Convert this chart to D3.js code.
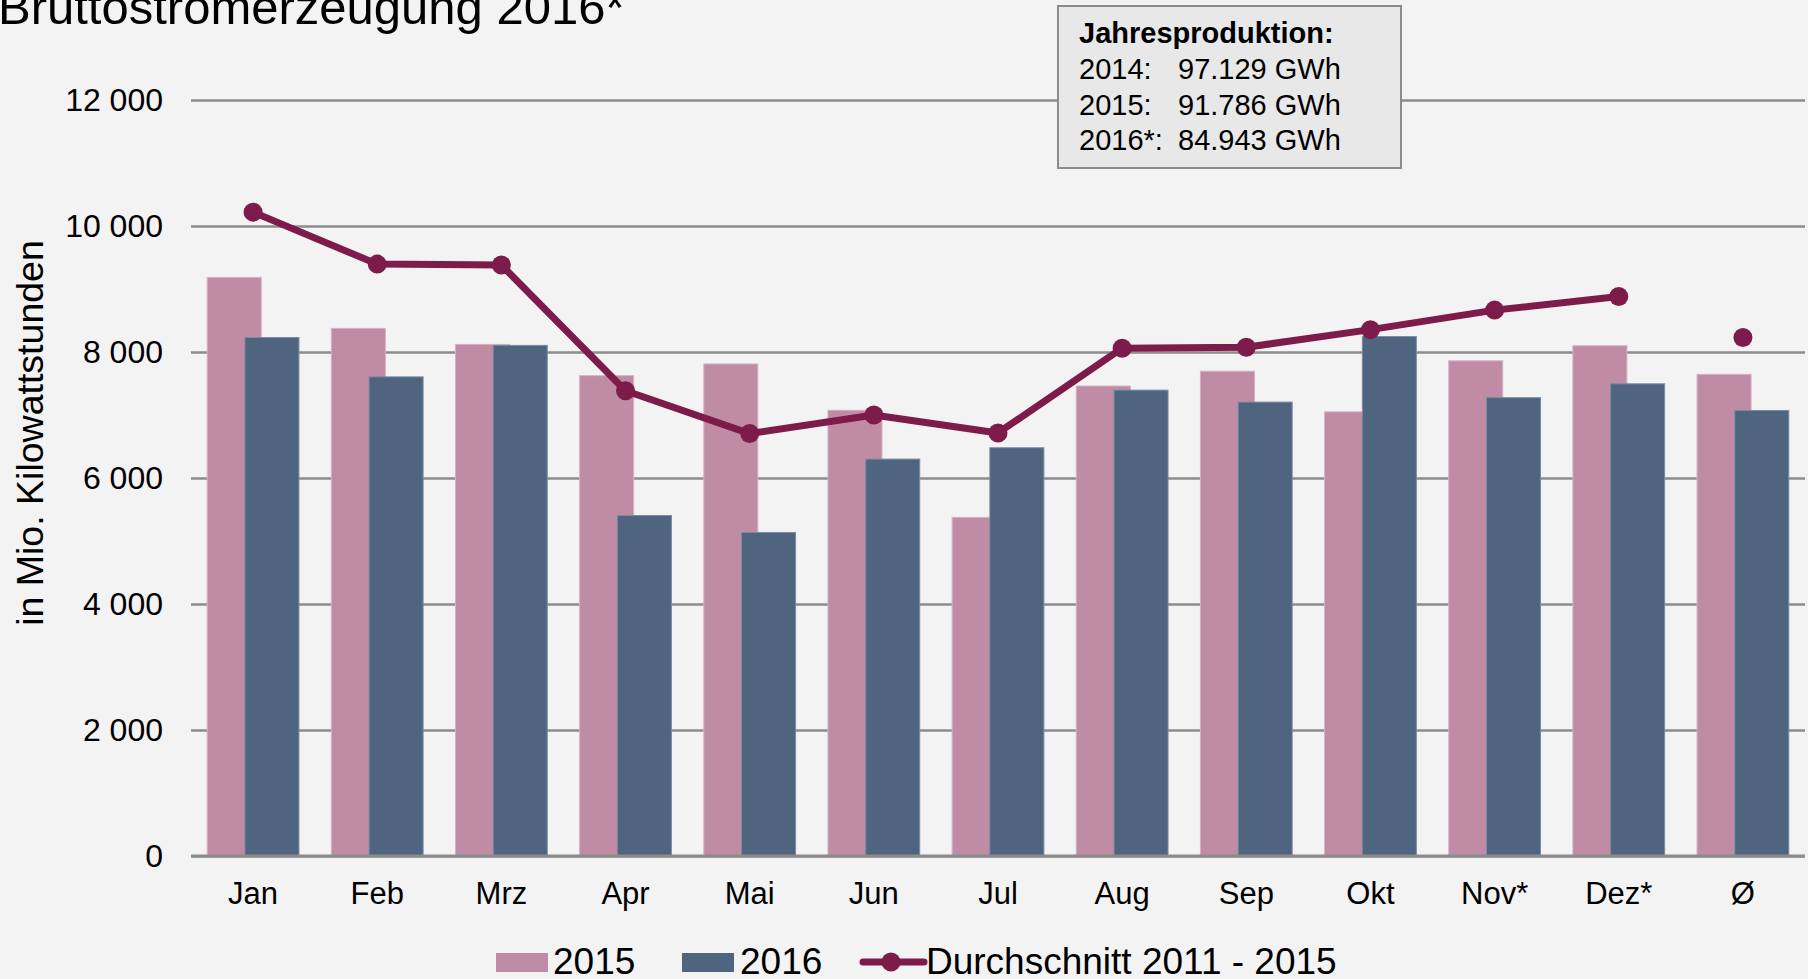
<!DOCTYPE html>
<html>
<head>
<meta charset="utf-8">
<script src="https://cdn.jsdelivr.net/npm/d3@7"></script>
<style>
  html, body { margin: 0; padding: 0; background: #f3f3f3; overflow: hidden; }
  svg { display: block; font-family: "Liberation Sans", Arial, sans-serif; }
</style>
</head>
<body>
<div id="chart"></div>
<script>
const months = ['Jan', 'Feb', 'Mrz', 'Apr', 'Mai', 'Jun', 'Jul', 'Aug', 'Sep', 'Okt', 'Nov*', 'Dez*', 'Ø'];
const values2015 = [9185, 8375, 8120, 7625, 7810, 7075, 5375, 7460, 7695, 7050, 7860, 8100, 7645];
const values2016 = [8230, 7605, 8105, 5405, 5135, 6300, 6480, 7395, 7205, 8245, 7275, 7495, 7072];
// average 2011-2015, last entry (Ø) is drawn as a lone dot
const avgValues = [10220, 9395, 9380, 7385, 6705, 7000, 6715, 8060, 8075, 8355, 8665, 8880, 8230];
const yTicks = [0, 2000, 4000, 6000, 8000, 10000, 12000];
const infoLines = [['2014:', '97.129 GWh'], ['2015:', '91.786 GWh'], ['2016*:', '84.943 GWh']];

const colors = { c2015: '#bf8ba5', c2016: '#4e647f', avg: '#7d1b4a', grid: '#8c8c8c' };

const W = 1808, H = 979;
const plot = { left: 191, right: 1805, top: 100, bottom: 856 };

const svg = d3.select('#chart').append('svg')
  .attr('width', W)
  .attr('height', H);

svg.append('rect').attr('width', W).attr('height', H).attr('fill', '#f3f3f3');

const x = d3.scaleBand().domain(months).range([plot.left, plot.right]).padding(0);
const y = d3.scaleLinear().domain([0, 12000]).range([plot.bottom, plot.top]);
const bw = x.bandwidth();

const fmt = d3.formatLocale({ thousands: ' ', grouping: [3], decimal: ',', currency: ['', ''] }).format(',d');

// grid + y labels
const yAxis = svg.append('g')
  .attr('transform', `translate(${plot.left},0)`)
  .call(d3.axisLeft(y).tickValues(yTicks).tickSize(-(plot.right - plot.left)).tickPadding(28).tickFormat(fmt));
yAxis.select('.domain').remove();
yAxis.selectAll('.tick line').attr('stroke', colors.grid).attr('stroke-width', 2.5);
yAxis.selectAll('.tick text')
  .attr('fill', '#000')
  .style('font-size', '32px')
  .style('font-family', '"Liberation Sans", Arial, sans-serif');

// bars
const barW = bw * 0.435;
const off = bw * 0.152;
svg.append('g').selectAll('rect')
  .data(months)
  .join('rect')
  .attr('x', (d) => x(d) + bw / 2 - off - barW / 2)
  .attr('y', (d, i) => y(values2015[i]))
  .attr('width', barW)
  .attr('height', (d, i) => y(0) - y(values2015[i]))
  .attr('fill', colors.c2015)
  .attr('stroke', '#d6b1c4')
  .attr('stroke-width', 1);
svg.append('g').selectAll('rect')
  .data(months)
  .join('rect')
  .attr('x', (d) => x(d) + bw / 2 + off - barW / 2)
  .attr('y', (d, i) => y(values2016[i]))
  .attr('width', barW)
  .attr('height', (d, i) => y(0) - y(values2016[i]))
  .attr('fill', colors.c2016)
  .attr('stroke', '#7a8ca3')
  .attr('stroke-width', 1);

// axis line redrawn over bars
svg.append('line')
  .attr('x1', plot.left).attr('x2', plot.right)
  .attr('y1', y(0)).attr('y2', y(0))
  .attr('stroke', colors.grid).attr('stroke-width', 3);

// x labels
const xAxis = svg.append('g')
  .attr('transform', `translate(0,${plot.bottom})`)
  .call(d3.axisBottom(x).tickSize(0).tickPadding(26));
xAxis.select('.domain').remove();
xAxis.selectAll('.tick text')
  .attr('fill', '#000')
  .style('font-size', '31px')
  .style('font-family', '"Liberation Sans", Arial, sans-serif');

// average line
const avgPts = avgValues.map((v, i) => ({ m: months[i], v: v, i: i }));
svg.append('path')
  .datum(avgPts.filter(p => p.m !== 'Ø'))
  .attr('fill', 'none')
  .attr('stroke', colors.avg)
  .attr('stroke-width', 7)
  .attr('stroke-linejoin', 'round')
  .attr('d', d3.line().x(p => x(p.m) + bw / 2).y(p => y(p.v)));
svg.append('g').selectAll('circle')
  .data(avgPts)
  .join('circle')
  .attr('cx', p => x(p.m) + bw / 2)
  .attr('cy', p => y(p.v))
  .attr('r', 9.5)
  .attr('fill', colors.avg);

// title
svg.append('text')
  .attr('x', -2).attr('y', 24)
  .style('font-size', '49px')
  .text('Bruttostromerzeugung 2016*');

// y label
svg.append('text')
  .attr('transform', 'translate(43,433) rotate(-90)')
  .attr('text-anchor', 'middle')
  .style('font-size', '37.5px')
  .text('in Mio. Kilowattstunden');

// info box
const box = svg.append('g');
box.append('rect')
  .attr('x', 1058).attr('y', 6).attr('width', 343).attr('height', 162)
  .attr('fill', '#e8e8e8').attr('stroke', colors.grid).attr('stroke-width', 2);
box.append('text')
  .attr('x', 1079).attr('y', 43)
  .style('font-size', '29px').style('font-weight', 'bold')
  .text('Jahresproduktion:');
infoLines.forEach((l, i) => {
  box.append('text').attr('x', 1079).attr('y', 79 + i * 35.5).style('font-size', '29px').text(l[0]);
  box.append('text').attr('x', 1178).attr('y', 79 + i * 35.5).style('font-size', '29px').text(l[1]);
});

// legend
const lg = svg.append('g');
lg.append('rect').attr('x', 496).attr('y', 953).attr('width', 52).attr('height', 19).attr('fill', colors.c2015);
lg.append('text').attr('x', 553).attr('y', 974).style('font-size', '37px').text('2015');
lg.append('rect').attr('x', 682).attr('y', 953).attr('width', 52).attr('height', 19).attr('fill', colors.c2016);
lg.append('text').attr('x', 740).attr('y', 974).style('font-size', '37px').text('2016');
lg.append('line').attr('x1', 863).attr('x2', 924).attr('y1', 962).attr('y2', 962)
  .attr('stroke', colors.avg).attr('stroke-width', 7).attr('stroke-linecap', 'round');
lg.append('circle').attr('cx', 891).attr('cy', 962).attr('r', 9.5).attr('fill', colors.avg);
lg.append('text').attr('x', 926).attr('y', 974).style('font-size', '37px').text('Durchschnitt 2011 - 2015');
</script>
</body>
</html>
